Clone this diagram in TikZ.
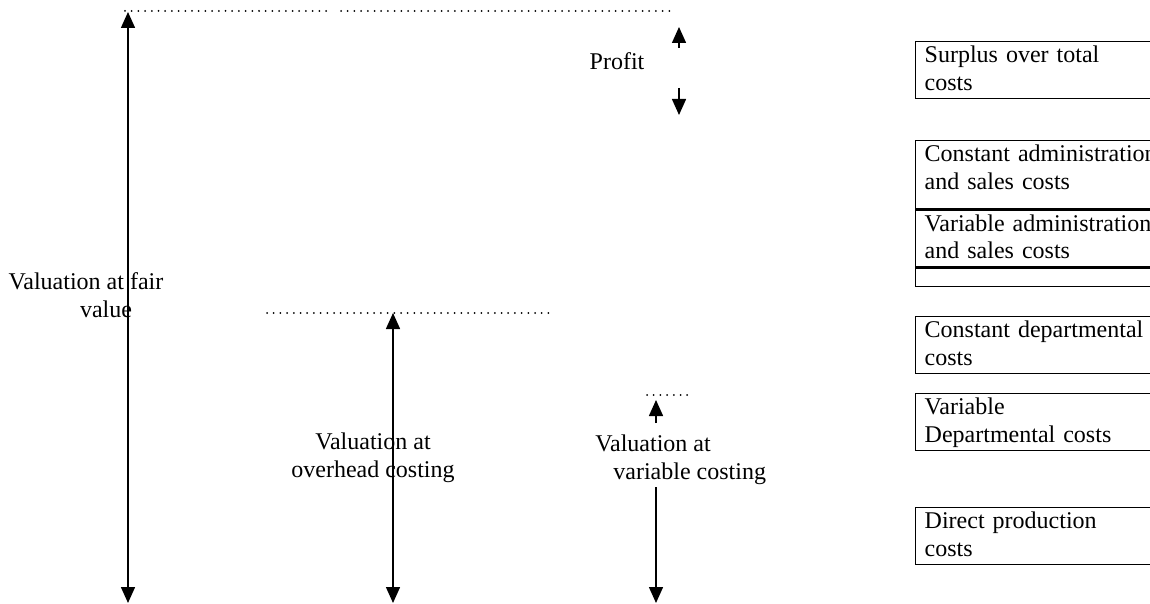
\documentclass[tikz,border=0pt]{standalone}
\usepackage{fontspec}
\setmainfont{Liberation Serif}
\usetikzlibrary{arrows.meta,positioning}

\begin{document}
\begin{tikzpicture}[x=0.5pt,y=-0.5pt,
    font=\fontsize{12}{13.8}\selectfont,
    >={Triangle[width=7pt,length=8pt]},
    arrow/.style={line width=0.75pt},
    dots/.style={line width=1pt,line cap=round,dash pattern=on 0pt off 3.35pt},
    lbl/.style={inner sep=0pt,align=center},
    cell/.style={draw,line width=0.7pt,anchor=north west,minimum width=128pt,
                 text width=119pt,align=left,inner xsep=4.5pt,inner ysep=1.5pt,
                 text height=9pt,text depth=16.5pt}]
    \path[use as bounding box,clip] (0,0) rectangle (1150,604);
    % fair value
    \coordinate (t_1) at (125,11);
    \coordinate (t_2) at (330,11);
    \coordinate (t_3) at (341,11);
    \coordinate (t_4) at (671,11);
    \coordinate (fairtop) at (128,12);
    \coordinate (fairbot) at (128,603);
    \node[lbl] (fair) at (86,295) {Valuation at fair\\\hspace*{20pt}value};
    \draw[dots] (t_1) -- (t_2) (t_3) -- (t_4);
    \draw[arrow,<->] (fairtop) -- (fairbot);
    % profit
    \coordinate (p_1) at (679,48);
    \coordinate (p_2) at (679,27);
    \coordinate (p_3) at (679,88);
    \coordinate (p_4) at (679,115);
    \node[lbl] (profit) at (617,61) {Profit};
    \draw[arrow,->] (p_1) -- (p_2);
    \draw[arrow,->] (p_3) -- (p_4);
    % overhead costing
    \coordinate (m_1) at (267,313);
    \coordinate (m_2) at (550,313);
    \coordinate (ovtop) at (393,313);
    \coordinate (ovbot) at (393,603);
    \node[lbl] (overhead) at (373,458) {Valuation at\\overhead costing};
    \draw[dots] (m_1) -- (m_2);
    \draw[arrow,<->] (ovtop) -- (ovbot);
    % variable costing
    \coordinate (v_1) at (647,395);
    \coordinate (v_2) at (688,395);
    \coordinate (v_3) at (656,423);
    \coordinate (v_4) at (656,400);
    \coordinate (v_5) at (656,487);
    \coordinate (v_6) at (656,603);
    \node[lbl,align=left,anchor=west] (variable) at (595,460) {Valuation at\\\hspace*{9pt}variable costing};
    \draw[dots] (v_1) -- (v_2);
    \draw[arrow,->] (v_3) -- (v_4);
    \draw[arrow,->] (v_5) -- (v_6);
    % cost layers
    \node[cell] (surplus) at (915,41) {Surplus over total\\costs};
    \node[cell,text depth=22pt] (constadm) at (915,140) {Constant administration\\and sales costs};
    \node[cell] (varadm) at (constadm.south west) {Variable administration\\and sales costs};
    \node[cell,text height=0pt,text depth=0pt,minimum height=9pt] (blank) at (varadm.south west) {};
    \node[cell] (constdep) at (915,316) {Constant departmental\\costs};
    \node[cell] (vardep) at (915,393) {Variable\\Departmental costs};
    \node[cell] (direct) at (915,507) {Direct production\\costs};
\end{tikzpicture}
\end{document}
